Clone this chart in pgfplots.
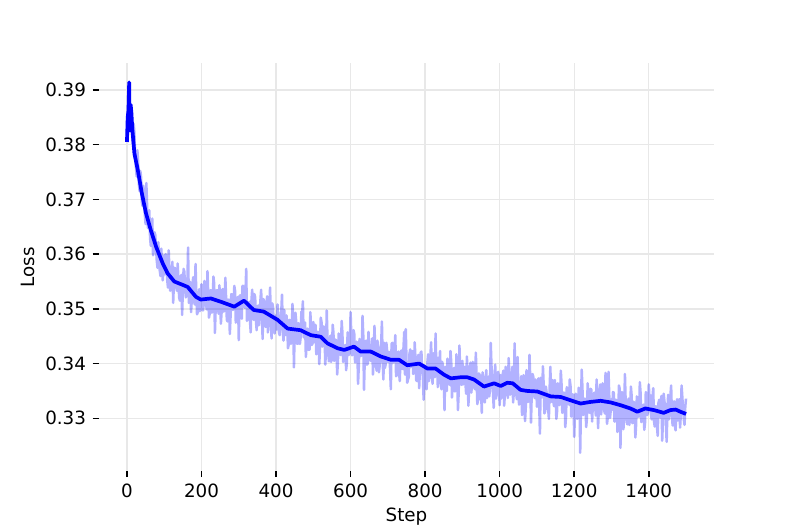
\documentclass[border=0pt]{standalone}
\usepackage{fontspec}
\setmainfont{DejaVu Sans}
\usepackage{pgfplots}
\pgfplotsset{compat=1.18}
\begin{document}
\begin{tikzpicture}
\useasboundingbox (-99pt,-58.2pt) rectangle (694pt,470.8pt);
\begin{axis}[
  at={(0pt,0pt)}, anchor=south west,
  scale only axis, width=615pt, height=407.3pt,
  xmin=-75, xmax=1575, ymin=0.32041, ymax=0.39484,
  axis line style={draw=none},
  xtick={0,200,400,600,800,1000,1200,1400},
  ytick={0.33,0.34,0.35,0.36,0.37,0.38,0.39},
  xtick pos=left, ytick pos=left,
  tick align=outside, major tick length=6.4pt,
  tick style={black, line width=1.47pt},
  grid=major, major grid style={black!9, line width=1.4pt},
  ticklabel style={font=\fontsize{18.3}{22}\selectfont, inner sep=0pt},
  xticklabel shift=6.4pt, yticklabel shift=6.4pt,
  /pgf/number format/assume math mode=true,
  yticklabel style={/pgf/number format/.cd, fixed, fixed zerofill, precision=2},
  xticklabel style={/pgf/number format/1000 sep={}},
  xlabel={Step}, ylabel={Loss},
  label style={font=\fontsize{18.3}{22}\selectfont, inner sep=0pt},
  xlabel style={at={(axis description cs:0.5,-0.12448)}, anchor=base},
  ylabel style={at={(axis description cs:-0.10569,0.5)}, anchor=base},
]
\addplot[blue, opacity=0.3, line width=2.5pt, line join=round] coordinates {
(0,0.3805)(2,0.3845)(4,0.3880)(6,0.3905)(8,0.3870)(10,0.3868)(12,0.3858)(14,0.3815)(16,0.3802)(18,0.3838)
(20,0.3822)(22,0.3775)(24,0.3760)(26,0.3742)(28,0.3790)(30,0.3768)(32,0.3728)(34,0.3715)(36,0.3752)(38,0.3740)
(40,0.3695)(42,0.3688)(44,0.3725)(46,0.3700)(48,0.3672)(50,0.3655)(52,0.3730)(54,0.3690)(56,0.3648)(58,0.3672)
(60,0.3680)(62,0.3630)(64,0.3615)(66,0.3645)(68,0.3665)(70,0.3598)(72,0.3606)(74,0.3640)(76,0.3635)(78,0.3612)
(80,0.3588)(82,0.3575)(84,0.3622)(86,0.3600)(88,0.3570)(90,0.3560)(92,0.3610)(94,0.3588)(96,0.3552)(98,0.3570)(100,0.3598)
(102,0.3563)(104,0.3600)(106,0.3591)(108,0.3553)(110,0.3539)(112,0.3607)(114,0.3569)(116,0.3533)(118,0.3540)(120,0.3566)
(122,0.3586)(124,0.3511)(126,0.3548)(128,0.3575)(130,0.3573)(132,0.3541)(134,0.3533)(136,0.3583)(138,0.3556)(140,0.3521)
(142,0.3515)(144,0.3557)(146,0.3562)(148,0.3489)(150,0.3535)(152,0.3573)(154,0.3568)(156,0.3537)(158,0.3521)(160,0.3530)
(162,0.3542)(164,0.3612)(166,0.3511)(168,0.3550)(170,0.3546)(172,0.3494)(174,0.3518)(176,0.3548)(178,0.3558)(180,0.3514)
(182,0.3508)(184,0.3582)(186,0.3530)(188,0.3490)(190,0.3494)(192,0.3525)(194,0.3536)(196,0.3496)(198,0.3513)(200,0.3545)
(202,0.3535)(204,0.3497)(206,0.3508)(208,0.3551)(210,0.3542)(212,0.3510)(214,0.3499)(216,0.3569)(218,0.3527)(220,0.3484)
(222,0.3491)(224,0.3534)(226,0.3534)(228,0.3493)(230,0.3511)(232,0.3559)(234,0.3546)(236,0.3456)(238,0.3501)(240,0.3533)
(242,0.3534)(244,0.3504)(246,0.3491)(248,0.3543)(250,0.3517)(252,0.3473)(254,0.3495)(256,0.3536)(258,0.3536)(260,0.3495)
(262,0.3501)(264,0.3557)(266,0.3520)(268,0.3480)(270,0.3477)(272,0.3517)(274,0.3516)(276,0.3454)(278,0.3487)(280,0.3527)
(282,0.3526)(284,0.3498)(286,0.3500)(288,0.3542)(290,0.3533)(292,0.3475)(294,0.3494)(296,0.3518)(298,0.3522)(300,0.3443)
(302,0.3522)(304,0.3525)(306,0.3492)(308,0.3482)(310,0.3542)(312,0.3542)(314,0.3508)(316,0.3502)(318,0.3529)(320,0.3573)
(322,0.3478)(324,0.3486)(326,0.3510)(328,0.3513)(330,0.3480)(332,0.3457)(334,0.3515)(336,0.3535)(338,0.3488)(340,0.3480)
(342,0.3527)(344,0.3521)(346,0.3479)(348,0.3461)(350,0.3504)(352,0.3506)(354,0.3470)(356,0.3488)(358,0.3515)(360,0.3535)
(362,0.3491)(364,0.3445)(366,0.3518)(368,0.3514)(370,0.3478)(372,0.3467)(374,0.3501)(376,0.3523)(378,0.3457)(380,0.3475)
(382,0.3503)(384,0.3539)(386,0.3478)(388,0.3446)(390,0.3510)(392,0.3502)(394,0.3465)(396,0.3455)(398,0.3486)(400,0.3488)
(402,0.3462)(404,0.3508)(406,0.3488)(408,0.3456)(410,0.3452)(412,0.3481)(414,0.3494)(416,0.3526)(418,0.3464)(420,0.3442)
(422,0.3498)(424,0.3458)(426,0.3452)(428,0.3488)(430,0.3472)(432,0.3428)(434,0.3435)(436,0.3480)(438,0.3478)(440,0.3436)
(442,0.3444)(444,0.3509)(446,0.3485)(448,0.3393)(450,0.3459)(452,0.3493)(454,0.3478)(456,0.3437)(458,0.3436)(460,0.3474)
(462,0.3469)(464,0.3436)(466,0.3448)(468,0.3495)(470,0.3489)(472,0.3514)(474,0.3448)(476,0.3448)(478,0.3475)(480,0.3412)
(482,0.3434)(484,0.3464)(486,0.3459)(488,0.3425)(490,0.3426)(492,0.3494)(494,0.3464)(496,0.3434)(498,0.3437)(500,0.3476)
(502,0.3439)(504,0.3471)(506,0.3470)(508,0.3417)(510,0.3422)(512,0.3458)(514,0.3455)(516,0.3399)(518,0.3431)(520,0.3484)
(522,0.3476)(524,0.3431)(526,0.3438)(528,0.3468)(530,0.3462)(532,0.3398)(534,0.3422)(536,0.3497)(538,0.3446)(540,0.3418)
(542,0.3404)(544,0.3444)(546,0.3451)(548,0.3403)(550,0.3423)(552,0.3471)(554,0.3456)(556,0.3405)(558,0.3409)(560,0.3444)
(562,0.3432)(564,0.3380)(566,0.3403)(568,0.3455)(570,0.3440)(572,0.3416)(574,0.3416)(576,0.3478)(578,0.3457)(580,0.3403)
(582,0.3409)(584,0.3431)(586,0.3434)(588,0.3388)(590,0.3401)(592,0.3457)(594,0.3446)(596,0.3416)(598,0.3425)(600,0.3494)
(602,0.3448)(604,0.3415)(606,0.3421)(608,0.3461)(610,0.3454)(612,0.3402)(614,0.3408)(616,0.3440)(618,0.3433)(620,0.3363)
(622,0.3395)(624,0.3445)(626,0.3438)(628,0.3414)(630,0.3416)(632,0.3487)(634,0.3452)(636,0.3352)(638,0.3408)(640,0.3440)
(642,0.3442)(644,0.3398)(646,0.3400)(648,0.3458)(650,0.3426)(652,0.3412)(654,0.3405)(656,0.3429)(658,0.3446)(660,0.3380)
(662,0.3411)(664,0.3469)(666,0.3430)(668,0.3398)(670,0.3387)(672,0.3442)(674,0.3426)(676,0.3384)(678,0.3396)(680,0.3428)
(682,0.3434)(684,0.3477)(686,0.3407)(688,0.3371)(690,0.3438)(692,0.3392)(694,0.3398)(696,0.3438)(698,0.3423)(700,0.3403)
(702,0.3421)(704,0.3421)(706,0.3388)(708,0.3353)(710,0.3436)(712,0.3438)(714,0.3402)(716,0.3403)(718,0.3425)(720,0.3452)
(722,0.3377)(724,0.3379)(726,0.3412)(728,0.3422)(730,0.3384)(732,0.3368)(734,0.3419)(736,0.3424)(738,0.3392)(740,0.3390)
(742,0.3430)(744,0.3458)(746,0.3380)(748,0.3463)(750,0.3405)(752,0.3365)(754,0.3371)(756,0.3375)(758,0.3418)(760,0.3426)
(762,0.3394)(764,0.3423)(766,0.3423)(768,0.3381)(770,0.3385)(772,0.3439)(774,0.3410)(776,0.3370)(778,0.3368)(780,0.3408)
(782,0.3416)(784,0.3355)(786,0.3390)(788,0.3420)(790,0.3422)(792,0.3386)(794,0.3376)(796,0.3334)(798,0.3397)(800,0.3368)
(802,0.3375)(804,0.3353)(806,0.3402)(808,0.3417)(810,0.3368)(812,0.3377)(814,0.3411)(816,0.3439)(818,0.3383)(820,0.3363)
(822,0.3419)(824,0.3401)(826,0.3375)(828,0.3455)(830,0.3395)(832,0.3411)(834,0.3357)(836,0.3381)(838,0.3399)(840,0.3423)
(842,0.3363)(844,0.3353)(846,0.3403)(848,0.3393)(850,0.3376)(852,0.3315)(854,0.3394)(856,0.3358)(858,0.3350)(860,0.3409)
(862,0.3383)(864,0.3367)(866,0.3361)(868,0.3423)(870,0.3403)(872,0.3338)(874,0.3364)(876,0.3389)(878,0.3392)(880,0.3349)
(882,0.3353)(884,0.3417)(886,0.3379)(888,0.3315)(890,0.3347)(892,0.3433)(894,0.3387)(896,0.3365)(898,0.3361)(900,0.3405)
(902,0.3362)(904,0.3384)(906,0.3394)(908,0.3366)(910,0.3345)(912,0.3413)(914,0.3379)(916,0.3323)(918,0.3354)(920,0.3392)
(922,0.3402)(924,0.3347)(926,0.3366)(928,0.3403)(930,0.3392)(932,0.3356)(934,0.3353)(936,0.3420)(938,0.3376)(940,0.3326)
(942,0.3334)(944,0.3382)(946,0.3380)(948,0.3334)(950,0.3352)(952,0.3310)(954,0.3384)(956,0.3373)(958,0.3339)(960,0.3329)
(962,0.3364)(964,0.3388)(966,0.3337)(968,0.3349)(970,0.3376)(972,0.3340)(974,0.3353)(976,0.3438)(978,0.3396)(980,0.3372)
(982,0.3348)(984,0.3319)(986,0.3371)(988,0.3398)(990,0.3336)(992,0.3344)(994,0.3379)(996,0.3385)(998,0.3356)(1000,0.3324)
(1002,0.3379)(1004,0.3336)(1006,0.3352)(1008,0.3380)(1010,0.3387)(1012,0.3323)(1014,0.3344)(1016,0.3394)(1018,0.3373)(1020,0.3357)
(1022,0.3337)(1024,0.3410)(1026,0.3381)(1028,0.3343)(1030,0.3358)(1032,0.3374)(1034,0.3394)(1036,0.3329)(1038,0.3348)(1040,0.3437)
(1042,0.3380)(1044,0.3348)(1046,0.3335)(1048,0.3412)(1050,0.3359)(1052,0.3325)(1054,0.3336)(1056,0.3357)(1058,0.3377)(1060,0.3306)
(1062,0.3343)(1064,0.3379)(1066,0.3362)(1068,0.3295)(1070,0.3320)(1072,0.3388)(1074,0.3360)(1076,0.3330)(1078,0.3332)(1080,0.3416)
(1082,0.3372)(1084,0.3292)(1086,0.3345)(1088,0.3381)(1090,0.3377)(1092,0.3344)(1094,0.3337)(1096,0.3371)(1098,0.3363)(1100,0.3321)
(1102,0.3360)(1104,0.3373)(1106,0.3327)(1108,0.3272)(1110,0.3374)(1112,0.3338)(1114,0.3339)(1116,0.3395)(1118,0.3362)(1120,0.3309)
(1122,0.3313)(1124,0.3358)(1126,0.3347)(1128,0.3317)(1130,0.3319)(1132,0.3299)(1134,0.3355)(1136,0.3394)(1138,0.3330)(1140,0.3358)
(1142,0.3370)(1144,0.3330)(1146,0.3322)(1148,0.3370)(1150,0.3347)(1152,0.3299)(1154,0.3313)(1156,0.3364)(1158,0.3359)(1160,0.3324)
(1162,0.3335)(1164,0.3387)(1166,0.3362)(1168,0.3310)(1170,0.3323)(1172,0.3347)(1174,0.3346)(1176,0.3284)(1178,0.3303)(1180,0.3357)
(1182,0.3350)(1184,0.3328)(1186,0.3325)(1188,0.3371)(1190,0.3359)(1192,0.3303)(1194,0.3314)(1196,0.3344)(1198,0.3335)(1200,0.3266)
(1202,0.3312)(1204,0.3345)(1206,0.3339)(1208,0.3299)(1210,0.3304)(1212,0.3356)(1214,0.3347)(1216,0.3237)(1218,0.3319)(1220,0.3389)
(1222,0.3356)(1224,0.3306)(1226,0.3312)(1228,0.3336)(1230,0.3335)(1232,0.3284)(1234,0.3299)(1236,0.3364)(1238,0.3344)(1240,0.3312)
(1242,0.3310)(1244,0.3354)(1246,0.3352)(1248,0.3294)(1250,0.3327)(1252,0.3341)(1254,0.3347)(1256,0.3323)(1258,0.3305)(1260,0.3371)
(1262,0.3340)(1264,0.3282)(1266,0.3320)(1268,0.3352)(1270,0.3362)(1272,0.3307)(1274,0.3322)(1276,0.3364)(1278,0.3349)(1280,0.3317)
(1282,0.3309)(1284,0.3383)(1286,0.3334)(1288,0.3290)(1290,0.3302)(1292,0.3385)(1294,0.3341)(1296,0.3301)(1298,0.3315)(1300,0.3335)
(1302,0.3316)(1304,0.3348)(1306,0.3347)(1308,0.3294)(1310,0.3298)(1312,0.3334)(1314,0.3331)(1316,0.3275)(1318,0.3307)(1320,0.3360)
(1322,0.3354)(1324,0.3246)(1326,0.3318)(1328,0.3348)(1330,0.3344)(1332,0.3280)(1334,0.3306)(1336,0.3381)(1338,0.3330)(1340,0.3302)
(1342,0.3289)(1344,0.3329)(1346,0.3336)(1348,0.3288)(1350,0.3310)(1352,0.3358)(1354,0.3342)(1356,0.3291)(1358,0.3295)(1360,0.3330)
(1362,0.3317)(1364,0.3265)(1366,0.3288)(1368,0.3340)(1370,0.3327)(1372,0.3303)(1374,0.3304)(1376,0.3366)(1378,0.3347)(1380,0.3293)
(1382,0.3300)(1384,0.3322)(1386,0.3325)(1388,0.3279)(1390,0.3292)(1392,0.3348)(1394,0.3336)(1396,0.3306)(1398,0.3313)(1400,0.3362)
(1402,0.3335)(1404,0.3342)(1406,0.3306)(1408,0.3298)(1410,0.3339)(1412,0.3355)(1414,0.3295)(1416,0.3285)(1418,0.3322)(1420,0.3322)
(1422,0.3285)(1424,0.3268)(1426,0.3328)(1428,0.3334)(1430,0.3305)(1432,0.3301)(1434,0.3341)(1436,0.3259)(1438,0.3296)(1440,0.3345)
(1442,0.3331)(1444,0.3323)(1446,0.3290)(1448,0.3257)(1450,0.3317)(1452,0.3343)(1454,0.3298)(1456,0.3309)(1458,0.3341)(1460,0.3360)
(1462,0.3307)(1464,0.3287)(1466,0.3328)(1468,0.3331)(1470,0.3286)(1472,0.3278)(1474,0.3325)(1476,0.3335)(1478,0.3296)(1480,0.3302)
(1482,0.3335)(1484,0.3283)(1486,0.3308)(1488,0.3360)(1490,0.3339)(1492,0.3316)(1494,0.3298)(1496,0.3288)(1498,0.3322)(1500,0.3336)
};
\addplot[blue, line width=3.7pt, line join=round] coordinates {
(0,0.3805)(2,0.3850)(4,0.3862)(6,0.3914)(7,0.3842)(8,0.3826)(10,0.3873)(12,0.3858)(14,0.3832)(20,0.3784)
(29,0.3754)(40,0.3711)(51,0.3675)(64,0.3644)(78,0.3614)(96,0.3583)(109,0.3565)(127,0.3550)(149,0.3544)(163,0.3540)
(185,0.3522)(198,0.3517)(225,0.3519)(252,0.3513)(288,0.3504)(314,0.3515)(340,0.3498)(367,0.3495)(404,0.3480)(431,0.3464)
(466,0.3461)(493,0.3452)(520,0.3449)(538,0.3437)(565,0.3428)(583,0.3425)(596,0.3428)(609,0.3431)(627,0.3422)(654,0.3422)
(681,0.3413)(708,0.3407)(730,0.3407)(752,0.3397)(784,0.3400)(806,0.3391)(828,0.3391)(850,0.3380)(869,0.3373)(895,0.3375)
(913,0.3375)(931,0.3371)(958,0.3358)(985,0.3364)(1003,0.3359)(1020,0.3365)(1035,0.3364)(1056,0.3352)(1074,0.3350)(1101,0.3349)
(1137,0.3340)(1164,0.3339)(1190,0.3333)(1217,0.3327)(1244,0.3330)(1271,0.3332)(1298,0.3329)(1324,0.3324)(1351,0.3318)(1369,0.3312)
(1391,0.3318)(1414,0.3315)(1440,0.3310)(1458,0.3315)(1472,0.3316)(1485,0.3312)(1500,0.3308)
};
\end{axis}
\end{tikzpicture}
\end{document}
